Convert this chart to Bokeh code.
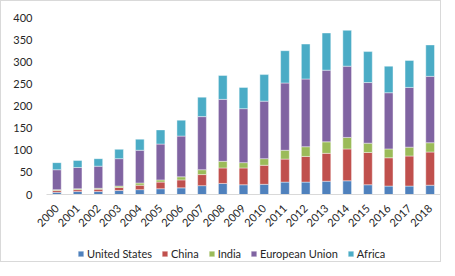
import math
from bokeh.plotting import figure
from bokeh.layouts import column
from bokeh.models import ColumnDataSource, Legend, LegendItem, Range1d, FixedTicker
from bokeh.embed import file_html
from bokeh.resources import INLINE

years = ["2000", "2001", "2002", "2003", "2004", "2005", "2006", "2007", "2008", "2009",
         "2010", "2011", "2012", "2013", "2014", "2015", "2016", "2017", "2018"]
united_states = [5, 7, 7, 9, 11, 13, 15, 20, 25, 22, 23, 28, 28, 30, 31, 22, 19, 19, 21]
china = [4, 4, 5, 7, 10, 15, 18, 25, 35, 38, 43, 52, 58, 63, 72, 73, 64, 68, 75]
india = [2, 2, 2, 3, 5, 5, 7, 11, 15, 12, 15, 20, 22, 26, 26, 21, 20, 20, 21]
european_union = [45, 48, 50, 62, 74, 81, 92, 120, 140, 122, 130, 152, 153, 162, 161, 137, 127, 135, 150]
africa = [16, 16, 17, 21, 25, 32, 36, 44, 54, 48, 60, 73, 79, 84, 81, 70, 60, 61, 71]

series = ["United States", "China", "India", "European Union", "Africa"]
keys = ["us", "cn", "in", "eu", "af"]
colors = ["#4F81BD", "#C0504D", "#9BBB59", "#8064A2", "#4BACC6"]
y_ticks = [0, 50, 100, 150, 200, 250, 300, 350, 400]

source = ColumnDataSource(dict(year=years, us=united_states, cn=china, **{"in": india},
                               eu=european_union, af=africa))

FONT = "Lato"
TXT = "#262626"
p = figure(x_range=years, y_range=Range1d(0, 400), width=439, height=238,
           output_backend="svg", toolbar_location=None,
           min_border_left=45, min_border_right=0, min_border_top=16, min_border_bottom=45)

bar_style = dict(width=0.42, line_color="white", line_width=0.6, line_alpha=0.7)
renderers = p.vbar_stack(keys, x="year", color=colors, source=source, **bar_style)

p.xgrid.visible = False
p.ygrid.visible = False
p.outline_line_color = None

p.yaxis.ticker = FixedTicker(ticks=y_ticks)
p.yaxis.axis_line_color = None
p.yaxis.major_tick_line_color = None
p.yaxis.minor_tick_line_color = None
p.yaxis.major_label_text_font = FONT
p.yaxis.major_label_text_font_size = "11px"
p.yaxis.major_label_text_color = TXT
p.yaxis.major_label_standoff = 8

p.xaxis.axis_line_color = "#d9d9d9"
p.xaxis.major_tick_line_color = None
p.xaxis.minor_tick_line_color = None
p.xaxis.major_label_orientation = math.pi / 4
p.xaxis.major_label_text_font = FONT
p.xaxis.major_label_text_font_size = "11px"
p.xaxis.major_label_text_color = TXT
p.xaxis.major_label_standoff = 6

# legend-only strip below the chart (hidden renderers, legend drawn normally)
p2 = figure(x_range=years, y_range=Range1d(1000, 1001), width=439, height=22,
            output_backend="svg", toolbar_location=None,
            x_axis_location=None, y_axis_location=None, min_border=0)
p2.grid.visible = False
p2.outline_line_color = None
leg_renderers = p2.vbar_stack(keys, x="year", color=colors, source=source, **bar_style)
for r in leg_renderers:
    r.visible = False
legend = Legend(items=[LegendItem(label=n, renderers=[r]) for n, r in zip(series, leg_renderers)],
                orientation="horizontal", location=(31, 1),
                glyph_width=7, glyph_height=7, label_standoff=3, spacing=9,
                label_text_font=FONT, label_text_font_size="11px", label_text_color=TXT,
                label_height=12, border_line_color=None, background_fill_alpha=0,
                inactive_fill_alpha=0, padding=2, margin=0)
p2.add_layout(legend)

layout = column(p, p2, spacing=0)
layout.styles = {"border": "1px solid #d9d9d9"}
open("out.html", "w").write(file_html(layout, INLINE))
